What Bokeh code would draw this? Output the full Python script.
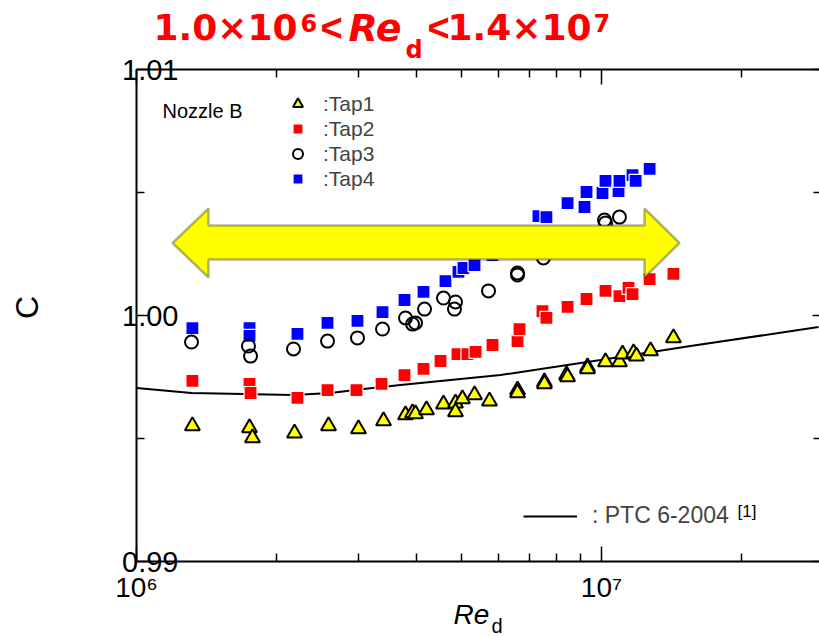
import math
from bokeh.plotting import figure
from bokeh.models import (Range1d, FixedTicker, LogAxis, LinearAxis, Label, Legend, LegendItem,
                          PolyAnnotation, PrintfTickFormatter, CustomJSTickFormatter)
from bokeh.embed import file_html
from bokeh.resources import INLINE

# ---------------- data (Re in units of 10^6) ----------------
tap1_re = [1.319, 1.750, 1.776, 2.187, 2.588, 3.002, 3.398, 3.789, 3.923, 3.981, 4.204,
           4.573, 4.853, 4.853, 5.023, 5.333, 5.743, 6.598, 6.598, 7.538, 7.538, 8.410,
           8.453, 9.330, 9.330, 10.20, 10.93, 11.10, 11.72, 11.89, 12.75, 14.28]
tap1_c = [0.99551, 0.99543, 0.99502, 0.99522, 0.99551, 0.99539, 0.99571, 0.99596, 0.99604,
          0.99600, 0.99616, 0.99640, 0.99644, 0.99608, 0.99661, 0.99677, 0.99652, 0.99697,
          0.99685, 0.99730, 0.99722, 0.99758, 0.99750, 0.99791, 0.99783, 0.99811, 0.99811,
          0.99843, 0.99848, 0.99835, 0.99856, 0.99909]

tap2_re = [1.319, 1.750, 1.759, 2.219, 2.575, 2.972, 3.365, 3.770, 4.142, 4.506, 4.901,
           5.149, 5.360, 5.829, 6.598, 6.663, 7.465, 7.613, 8.453, 9.285, 10.20, 10.93,
           11.43, 11.66, 12.69, 14.28]
tap2_c = [0.99734, 0.99722, 0.99685, 0.99665, 0.99697, 0.99697, 0.99722, 0.99758, 0.99783,
          0.99815, 0.99843, 0.99843, 0.99852, 0.99880, 0.99896, 0.99945, 1.00018, 0.99990,
          1.00035, 1.00067, 1.00100, 1.00079, 1.00112, 1.00087, 1.00148, 1.00169]

tap3_re = [1.313, 1.741, 1.759, 2.176, 2.575, 2.987, 3.381, 3.789, 3.923, 3.981, 4.163,
           4.573, 4.853, 4.829, 5.715, 6.598, 6.598, 7.501, 10.15, 10.20, 10.93]
tap3_c = [0.99892, 0.99876, 0.99835, 0.99864, 0.99896, 0.99909, 0.99945, 0.99990, 0.99965,
          0.99970, 1.00026, 1.00071, 1.00055, 1.00026, 1.00100, 1.00173, 1.00165, 1.00234,
          1.00388, 1.00376, 1.00400]

tap4_re = [1.319, 1.750, 1.750, 2.219, 2.575, 2.987, 3.381, 3.770, 4.142, 4.618, 4.925,
           5.048, 5.333, 5.829, 7.318, 7.613, 8.453, 9.193, 9.285, 10.05, 10.20, 10.88,
           10.93, 11.66, 11.84, 12.69]
tap4_c = [0.99949, 0.99949, 0.99917, 0.99925, 0.99970, 0.99978, 1.00014, 1.00063, 1.00096,
          1.00140, 1.00177, 1.00193, 1.00205, 1.00246, 1.00404, 1.00400, 1.00457, 1.00441,
          1.00502, 1.00498, 1.00547, 1.00506, 1.00547, 1.00571, 1.00547, 1.00596]

ptc_re = [1.000, 1.313, 1.698, 2.176, 2.613, 3.077, 3.696, 6.065, 9.95, 15.54, 29.29]
ptc_c = [0.99705, 0.99685, 0.99681, 0.99677, 0.99685, 0.99701, 0.99717, 0.99758, 0.99819,
         0.99876, 0.99953]

x_major = [1e6, 1e7]
x_minor = [2e6, 3e6, 4e6, 5e6, 6e6, 7e6, 8e6, 9e6, 2e7]
x_labels = {1000000: "10\u2076", 10000000: "10\u2077"}
y_major = [0.99, 1.00, 1.01]
y_minor = [0.995, 1.005]

legend_labels = [":Tap1", ":Tap2", ":Tap3", ":Tap4"]
ptc_label = ": PTC 6-2004"

# ---------------- layout helpers (canvas pixel -> data position) ----------------
W, H = 819, 636

def X(px):
    return 10 ** (6 + (px - 136) / 465.0)

def Y(py):
    return 1.0 + (315 - py) / 24600.0

FONT = "Liberation Sans"

p = figure(x_axis_type="log", x_axis_location=None, y_axis_location=None,
           x_range=Range1d(X(0), X(W)), y_range=Range1d(Y(H), Y(0)),
           frame_width=W, frame_height=H,
           min_border_left=0, min_border_right=0, min_border_top=0, min_border_bottom=0,
           output_backend="svg", toolbar_location=None)
p.outline_line_color = None
p.grid.visible = False
p.background_fill_color = "white"
p.border_fill_color = "white"

def style_ticks(ax, maj, mnr):
    ax.axis_line_width = 2
    ax.axis_line_color = "black"
    ax.major_tick_in = maj
    ax.major_tick_out = 0
    ax.minor_tick_in = mnr
    ax.minor_tick_out = 0
    ax.major_tick_line_width = 1.5
    ax.minor_tick_line_width = 1.5

x_bounds = (1e6, X(826))
y_bounds = (0.99, 1.01)

bottom = LogAxis(fixed_location=0.99, bounds=x_bounds,
                 ticker=FixedTicker(ticks=x_major, minor_ticks=x_minor))
style_ticks(bottom, 15, 8)
bottom.major_label_overrides = x_labels
bottom.major_label_text_font = FONT
bottom.major_label_text_font_size = "28px"
bottom.major_label_text_color = "black"
bottom.major_label_standoff = 10
p.add_layout(bottom, "below")

top = LogAxis(fixed_location=1.01, bounds=x_bounds,
              ticker=FixedTicker(ticks=x_major, minor_ticks=x_minor))
style_ticks(top, 15, 8)
top.formatter = CustomJSTickFormatter(code="return ''")
top.major_label_standoff = 0
p.add_layout(top, "above")

left = LinearAxis(fixed_location=1e6, bounds=y_bounds,
                  ticker=FixedTicker(ticks=y_major, minor_ticks=y_minor))
style_ticks(left, 12, 8)
left.formatter = PrintfTickFormatter(format="%.2f")
left.major_label_text_font = FONT
left.major_label_text_font_size = "29px"
left.major_label_text_color = "black"
left.major_label_standoff = -42
p.add_layout(left, "left")

right = LinearAxis(fixed_location=X(825), bounds=y_bounds,
                   ticker=FixedTicker(ticks=y_major, minor_ticks=y_minor))
style_ticks(right, 13, 12)
right.formatter = CustomJSTickFormatter(code="return ''")
right.major_label_standoff = 0
p.add_layout(right, "right")

# ---------------- data renderers ----------------
r_ptc = p.line([v * 1e6 for v in ptc_re], ptc_c, line_color="black", line_width=2)
r4 = p.scatter([v * 1e6 for v in tap4_re], tap4_c, marker="square", size=13,
               fill_color="#0000ff", line_color="white", line_width=1.2)
r3 = p.scatter([v * 1e6 for v in tap3_re], tap3_c, marker="circle", size=13,
               fill_color=None, line_color="black", line_width=2)
r2 = p.scatter([v * 1e6 for v in tap2_re], tap2_c, marker="square", size=13,
               fill_color="#ff0000", line_color="white", line_width=1.2)
r1 = p.scatter([v * 1e6 for v in tap1_re], tap1_c, marker="triangle", size=15,
               fill_color="#ffff00", line_color="black", line_width=2)

# ---------------- double arrow ----------------
arrow = PolyAnnotation(
    xs=[X(172), X(208), X(208), X(644), X(644), X(679), X(644), X(644), X(208), X(208)],
    ys=[Y(242.5), Y(208), Y(225), Y(225), Y(208), Y(242.5), Y(277), Y(259), Y(259), Y(277)],
    fill_color="#ffff00", fill_alpha=1.0, line_color="black", line_width=2.5)
p.add_layout(arrow)

# ---------------- legends ----------------
leg = Legend(items=[LegendItem(label=legend_labels[0], renderers=[r1]),
                    LegendItem(label=legend_labels[1], renderers=[r2]),
                    LegendItem(label=legend_labels[2], renderers=[r3]),
                    LegendItem(label=legend_labels[3], renderers=[r4])],
             location=(284, 445), glyph_width=27, glyph_height=25, label_height=25,
             spacing=0, padding=0, margin=0, label_standoff=12,
             border_line_alpha=0, background_fill_alpha=0,
             label_text_font=FONT, label_text_font_size="21px")
p.add_layout(leg)

leg2 = Legend(items=[LegendItem(label=ptc_label, renderers=[r_ptc])],
              location=(523, 107), glyph_width=54, glyph_height=20, label_height=20,
              padding=0, margin=0, label_standoff=15,
              border_line_alpha=0, background_fill_alpha=0,
              label_text_font=FONT, label_text_font_size="23px")
p.add_layout(leg2)

def lab(px, py, text, size, font=FONT, style="normal", color="black",
        align="left", baseline="middle", angle=0.0):
    p.add_layout(Label(x=X(px), y=Y(py), text=text, text_font=font,
                       text_font_size=size, text_font_style=style, text_color=color,
                       text_align=align, text_baseline=baseline, angle=angle))

lab(737, 511, "[1]", "17px")
lab(162, 110, "Nozzle B", "20px")

# axis titles
lab(26, 307, "C", "32px", align="center", angle=math.pi / 2)
lab(453, 614, "Re", "28px", style="italic")
lab(491, 625, "d", "20px")

# title
RED = "#ff0000"
lab(153, 27, "1.0\u00d710", "36px", font="DejaVu Sans", style="bold", color=RED)
lab(300, 22, "6", "24px", font="DejaVu Sans", style="bold", color=RED)
lab(320, 27, "<", "38px", font="Liberation Sans", style="bold", color=RED)
lab(348, 27, "Re", "38px", font="DejaVu Sans", style="bold italic", color=RED)
lab(405, 49, "d", "24px", font="DejaVu Sans", style="bold", color=RED)
lab(427, 27, "<", "38px", font="Liberation Sans", style="bold", color=RED)
lab(447, 27, "1.4\u00d710", "36px", font="DejaVu Sans", style="bold", color=RED)
lab(593, 22, "7", "24px", font="DejaVu Sans", style="bold", color=RED)

open("out.html", "w").write(file_html(p, INLINE))
